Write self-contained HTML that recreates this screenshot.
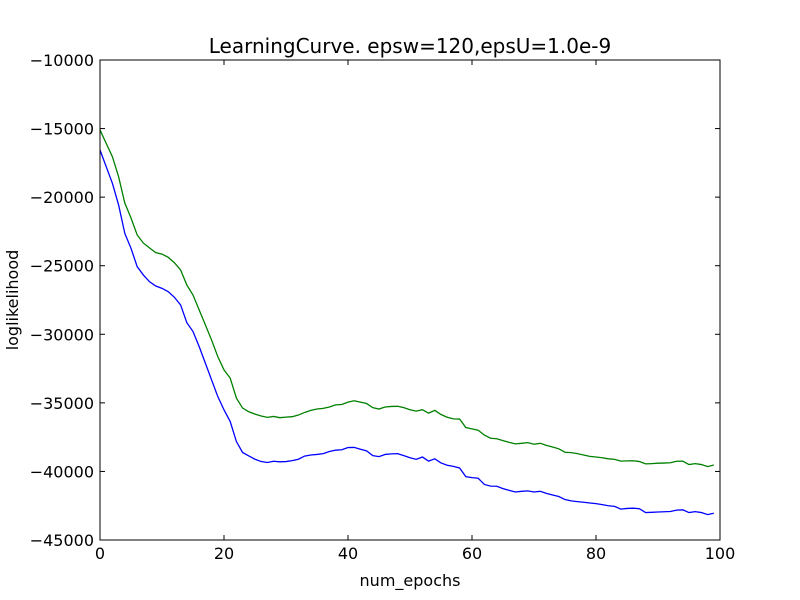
<!DOCTYPE html>
<html><head><meta charset="utf-8"><style>
body{margin:0;background:#fff}
svg{display:block;font-family:"DejaVu Sans","Liberation Sans",sans-serif}
</style></head><body>
<svg id="chart" width="800" height="600">
<rect x="0" y="0" width="800" height="600" fill="#fff"/>
<text x="410" y="53" font-size="20" text-anchor="middle">LearningCurve. epsw=120,epsU=1.0e-9</text>
<g id="plot"></g>
<text x="410" y="586" font-size="16" text-anchor="middle">num_epochs</text>
<text x="18" y="300" font-size="16" text-anchor="middle" transform="rotate(-90 18 300)">loglikelihood</text>
</svg>
<script>
const xTicks=[0,20,40,60,80,100];
const yTicks=[-10000,-15000,-20000,-25000,-30000,-35000,-40000,-45000];
const yTickLabels=["\u221210000","\u221215000","\u221220000","\u221225000","\u221230000","\u221235000","\u221240000","\u221245000"];
const greenSeries=[-15100,-16080,-17050,-18510,-20430,-21520,-22760,-23350,-23710,-24050,-24150,-24390,-24780,-25310,-26400,-27140,-28230,-29320,-30420,-31630,-32600,-33200,-34650,-35380,-35650,-35820,-35960,-36060,-35990,-36080,-36040,-36010,-35890,
-35700,-35550,-35450,-35400,-35300,-35150,-35120,-34950,-34850,-34950,-35050,-35350,-35450,-35300,-35260,-35250,-35350,-35500,-35600,-35500,-35750,-35550,-35850,-36050,-36170,-36180,-36800,-36900,-37000,-37350,-37580,-37620,-37750,-37880,-37990,-37950,-37900,-38020,-37950,-38100,-38220,-38350,-38600,-38630,-38700,-38800,-38900,-38950,-39000,-39080,-39120,-39250,-39230,-39220,-39280,-39450,-39430,-39400,-39390,-39370,-39260,-39250,-39500,-39430,-39500,-39650,-39530];
const blueSeries=[-16560,-17780,-18990,-20570,-22640,-23730,-25070,-25680,-26170,-26480,-26650,-26890,-27300,-27860,-29150,-29800,-30900,-32110,-33330,-34540,-35510,-36360,-37820,-38620,-38870,-39110,-39280,-39350,-39260,-39300,-39280,-39210,-39110,
-38880,-38800,-38760,-38700,-38550,-38450,-38420,-38260,-38250,-38380,-38500,-38850,-38920,-38760,-38720,-38700,-38850,-39000,-39120,-38950,-39250,-39080,-39380,-39550,-39630,-39750,-40380,-40450,-40500,-40950,-41070,-41080,-41250,-41380,-41500,-41450,-41420,-41500,-41450,-41600,-41720,-41830,-42050,-42150,-42200,-42250,-42300,-42350,-42420,-42500,-42550,-42750,-42700,-42680,-42720,-43000,-42980,-42960,-42940,-42920,-42820,-42800,-43000,-42930,-43000,-43150,-43050];

const L=100,R=720,T=60,B=540;
const xS=v=>L+(v-0)/(100-0)*(R-L);
const yS=v=>T+(-10000-v)/35000*(B-T);
const NS="http://www.w3.org/2000/svg";
const g=document.getElementById('plot');
function mk(t,a){const e=document.createElementNS(NS,t);for(const k in a)e.setAttribute(k,a[k]);g.appendChild(e);return e;}

function line(data,color,name){
  const d=data.map((v,i)=>(i?'L':'M')+xS(i).toFixed(2)+','+yS(v).toFixed(2)).join('');
  const p=mk('path',{d:d,fill:'none',stroke:color,'stroke-width':1.3});
  
  
}
line(greenSeries,'#008000','green-series-line');
line(blueSeries,'#0000ff','blue-series-line');

const frame=mk('rect',{x:L,y:T,width:R-L,height:B-T,fill:'none',stroke:'#000','stroke-width':1});



xTicks.forEach(v=>{
  const x=xS(v);
  const t1=mk('line',{x1:x,y1:B,x2:x,y2:B-5,stroke:'#000'});
  
  
  const t2=mk('line',{x1:x,y1:T,x2:x,y2:T+5,stroke:'#000'});
  
  
  const tx=mk('text',{x:x,y:B+19,'font-size':16,'text-anchor':'middle'});
  tx.textContent=v;
  
  
});
yTicks.forEach((v,i)=>{
  const y=yS(v);
  const t1=mk('line',{x1:L,y1:y,x2:L+5,y2:y,stroke:'#000'});
  
  
  const t2=mk('line',{x1:R,y1:y,x2:R-5,y2:y,stroke:'#000'});
  
  
  const tx=mk('text',{x:L-6,y:y+6,'font-size':16,'text-anchor':'end'});
  tx.textContent=yTickLabels[i];
  
  
});
</script>
</body></html>
